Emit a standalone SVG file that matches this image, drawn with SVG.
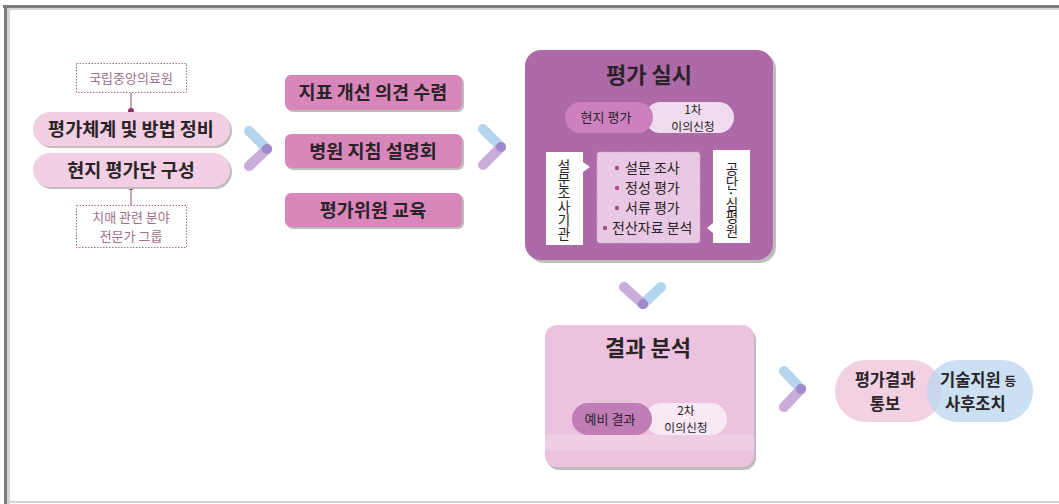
<svg xmlns="http://www.w3.org/2000/svg" width="1059" height="504" viewBox="0 0 1059 504">
<style>
text{font-family:"Noto Sans CJK KR","Noto Sans",sans-serif;fill:#2a2328}
.t17{font-size:16.5px;font-weight:700}
.t18{font-size:18.5px;font-weight:700}
.t22{font-size:22px;font-weight:700}
.t14{font-size:14px}
.t13{font-size:13px}
.t12{font-size:11.8px}
.sh{fill:#bdbdbd}
.dot{fill:none;stroke:#b5668f;stroke-width:1;stroke-dasharray:1.5 1.5}
.note{font-size:13px;fill:#a0708c}
.blue{stroke:#b4d5ee;stroke-width:10;stroke-linecap:round;fill:none}
.lav{stroke:#c3a2d8;stroke-width:10;stroke-linecap:round;fill:none}
.vt{font-size:13.5px;text-anchor:middle;writing-mode:vertical-rl}
</style>
<rect x="0" y="0" width="1059" height="504" fill="#fff"/>
<g id="frame">
<rect x="3" y="5" width="1056" height="3" fill="#7d7d7d"/>
<rect x="6" y="8" width="1053" height="2" fill="#d4d4d4"/>
<rect x="4" y="5" width="3" height="499" fill="#7d7d7d"/>
<rect x="7" y="8" width="3" height="496" fill="#d4d4d4"/>
<rect x="7" y="501" width="1052" height="2" fill="#d4d4d4"/>
</g>

<g id="connectors">
<line x1="131" y1="93" x2="131" y2="111" stroke="#a0467a" stroke-width="1"/>
<line x1="131" y1="187" x2="131" y2="205" stroke="#a0467a" stroke-width="1"/>
<circle cx="131" cy="111" r="3" fill="#9a2a6d"/>
<circle cx="131" cy="187" r="3" fill="#9a2a6d"/>
<g>
<line class="blue" x1="249" y1="131" x2="267" y2="149"/>
<line class="lav" x1="267" y1="149" x2="249" y2="166" opacity="0.9"/>
<circle cx="267" cy="149" r="5" fill="#9d8acb"/>
</g>
<g>
<line class="blue" x1="483" y1="129" x2="501" y2="147"/>
<line class="lav" x1="501" y1="147" x2="483" y2="165" opacity="0.9"/>
<circle cx="501" cy="147" r="5" fill="#9d8acb"/>
</g>
<g>
<line class="blue" x1="661" y1="287" x2="643" y2="304"/>
<line class="lav" x1="624" y1="287" x2="643" y2="304" opacity="0.9"/>
<circle cx="643" cy="304" r="5" fill="#9d8acb"/>
</g>
<g>
<line class="blue" x1="784" y1="371" x2="801" y2="389"/>
<line class="lav" x1="801" y1="389" x2="784" y2="407" opacity="0.9"/>
<circle cx="801" cy="389" r="5" fill="#9d8acb"/>
</g>
</g>

<g id="note-top">
<rect class="dot" x="76.5" y="63.5" width="110" height="29" fill="#fff"/>
<text class="note" x="131" y="83" text-anchor="middle">국립중앙의료원</text>
</g>
<g id="pill-1">
<rect class="sh" x="35" y="114" width="197" height="34" rx="17"/>
<rect x="33" y="112" width="197" height="34" rx="17" fill="#f2cfe2"/>
<text class="t18" x="131" y="135.5" text-anchor="middle">평가체계 및 방법 정비</text>
</g>
<g id="pill-2">
<rect class="sh" x="35" y="155" width="197" height="34" rx="17"/>
<rect x="33" y="153" width="197" height="34" rx="17" fill="#f2cfe2"/>
<text class="t18" x="131" y="176.5" text-anchor="middle">현지 평가단 구성</text>
</g>
<g id="note-bottom">
<rect class="dot" x="76.5" y="205.5" width="110" height="42" fill="#fff"/>
<text class="note" text-anchor="middle"><tspan x="131" y="222">치매 관련 분야</tspan><tspan x="131" y="241">전문가 그룹</tspan></text>
</g>

<g id="box-opinion">
<rect class="sh" x="287" y="77" width="177" height="35" rx="6"/>
<rect x="285" y="75" width="177" height="35" rx="6" fill="#d987bb"/>
<text class="t18" x="373" y="99" text-anchor="middle">지표 개선 의견 수렴</text>
</g>
<g id="box-briefing">
<rect class="sh" x="287" y="136" width="177" height="34" rx="6"/>
<rect x="285" y="134" width="177" height="34" rx="6" fill="#d987bb"/>
<text class="t18" x="373" y="157.5" text-anchor="middle">병원 지침 설명회</text>
</g>
<g id="box-training">
<rect class="sh" x="287" y="195" width="177" height="34" rx="6"/>
<rect x="285" y="193" width="177" height="34" rx="6" fill="#d987bb"/>
<text class="t18" x="373" y="216.5" text-anchor="middle">평가위원 교육</text>
</g>

<g id="box-evaluation">
<rect class="sh" x="528" y="53" width="248" height="210" rx="16"/>
<rect x="525" y="50" width="248" height="210" rx="16" fill="#ae69a8"/>
<text class="t22" x="649" y="83" text-anchor="middle">평가 실시</text>
<rect x="645" y="102" width="89" height="31" rx="15.5" fill="#f0dcee"/>
<rect x="565" y="102" width="88" height="31" rx="15.5" fill="#cc80be"/>
<text class="t13" x="606" y="122" text-anchor="middle">현지 평가</text>
<text class="t12" text-anchor="middle"><tspan x="693" y="114">1차</tspan><tspan x="693" y="131">이의신청</tspan></text>
<path d="M546,152 H583 V162 L590,167 L583,172 V245 H546 Z" fill="#fff"/>
<text class="vt" x="564" y="200">설문조사기관</text>
<rect x="597" y="152" width="103" height="91" rx="3" fill="#e8c8e2" stroke="#d2a8cc" stroke-width="1" stroke-dasharray="1.5 1.5"/>
<g fill="#b04c8a">
<circle cx="617" cy="168" r="2.2"/>
<circle cx="617" cy="188" r="2.2"/>
<circle cx="617" cy="208" r="2.2"/>
<circle cx="605" cy="228" r="2.2"/>
</g>
<text class="t14" x="625" y="173">설문 조사</text>
<text class="t14" x="625" y="193">정성 평가</text>
<text class="t14" x="625" y="213">서류 평가</text>
<text class="t14" x="612" y="233">전산자료 분석</text>
<path d="M713,150 H750 V243 H713 V233 L707,228 L713,223 Z" fill="#fff"/>
<text class="vt" x="732" y="200">공단·심평원</text>
</g>

<g id="box-analysis">
<rect class="sh" x="547" y="328" width="209" height="142" rx="12"/>
<rect x="545" y="325" width="209" height="142" rx="12" fill="#ecc2df"/>
<rect x="545" y="435" width="209" height="15" fill="#efcde3"/>
<text class="t22" x="648" y="356" text-anchor="middle">결과 분석</text>
<rect x="645" y="403" width="82" height="32" rx="16" fill="#f8e8f3"/>
<rect x="572" y="403" width="80" height="32" rx="16" fill="#c07cb5"/>
<text class="t13" x="610" y="424" text-anchor="middle">예비 결과</text>
<text class="t12" text-anchor="middle"><tspan x="686" y="415">2차</tspan><tspan x="686" y="432">이의신청</tspan></text>
</g>

<g id="node-notify">
<rect x="835" y="360" width="107" height="62" rx="31" fill="#f2d1e3"/>
<text class="t17" text-anchor="middle"><tspan x="885" y="386">평가결과</tspan><tspan x="885" y="410">통보</tspan></text>
</g>
<g id="node-followup">
<rect x="927" y="360" width="106" height="62" rx="31" fill="#b9d5ee" fill-opacity="0.75"/>
<text class="t17"><tspan x="940" y="386">기술지원 <tspan font-size="12.5">등</tspan></tspan><tspan x="945" y="410">사후조치</tspan></text>
</g>
</svg>
